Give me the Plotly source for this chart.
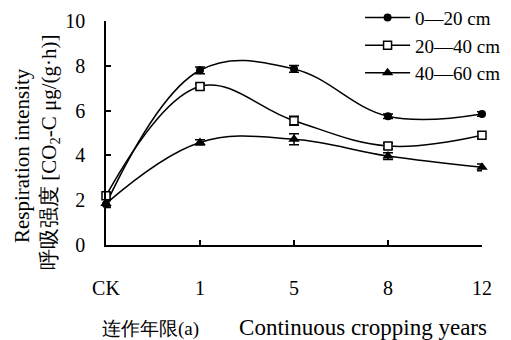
import plotly.graph_objects as go

categories = ["CK", "1", "5", "8", "12"]
s1_name = "0—20 cm"
s1 = [1.82, 7.8, 7.86, 5.75, 5.85]
s1_err = [0.15, 0.15, 0.15, 0.1, 0.1]
s2_name = "20—40 cm"
s2 = [2.2, 7.08, 5.55, 4.42, 4.9]
s2_err = [0.12, 0.12, 0.2, 0.12, 0.15]
s3_name = "40—60 cm"
s3 = [1.85, 4.58, 4.72, 3.97, 3.47]
s3_err = [0.15, 0.12, 0.25, 0.15, 0.15]
y_ticks = [0, 2, 4, 6, 8, 10]
y_title_1 = "Respiration intensity"
y_title_2 = "呼吸强度 [CO<sub>2</sub>-C μg/(g·h)]"
x_title_cn = "连作年限(a)"
x_title_en = "Continuous cropping years"

FONT = "Liberation Serif"
xpos = list(range(len(categories)))

fig = go.Figure()
specs = [
    (s1_name, s1, s1_err, dict(symbol="circle", size=8, color="black")),
    (s2_name, s2, s2_err, dict(symbol="square", size=8, color="white", line=dict(width=1.5, color="black"))),
    (s3_name, s3, s3_err, dict(symbol="triangle-up", size=10, color="black")),
]
for name, ys, err, mk in specs:
    fig.add_trace(go.Scatter(
        x=xpos, y=ys, name=name, mode="lines+markers",
        line=dict(color="black", width=1.5, shape="spline", smoothing=1.1),
        marker=mk,
        error_y=dict(type="data", array=err, color="black", thickness=1.5, width=5),
        cliponaxis=False,
    ))

x_title = ('<span style="font-size:19px">' + x_title_cn + '</span>'
           + "&nbsp;" * 8
           + '<span style="font-size:23px">' + x_title_en + '</span>')

# page body has an 8px margin, so the figure is sized 503x332
fig.update_layout(
    width=503, height=332,
    margin=dict(l=98, r=29, t=13, b=95, autoexpand=False),
    paper_bgcolor="white", plot_bgcolor="white",
    font=dict(family=FONT, size=18, color="black"),
    showlegend=True,
    legend=dict(x=1.064, y=1.10, xanchor="right", yanchor="top",
                bgcolor="rgba(0,0,0,0)", font=dict(size=19, family=FONT),
                itemwidth=45, tracegroupgap=0),
    xaxis=dict(
        range=[0, 4], tickmode="array", tickvals=xpos, ticktext=categories,
        showline=True, linecolor="black", linewidth=1.5,
        ticks="inside", ticklen=5, tickwidth=1.5, tickcolor="black",
        showgrid=False, zeroline=False, ticklabelstandoff=24,
        tickfont=dict(size=20), automargin=False,
    ),
    yaxis=dict(
        range=[0, 10], tickvals=y_ticks,
        showline=True, linecolor="black", linewidth=1.5,
        ticks="inside", ticklen=5, tickwidth=1.5, tickcolor="black",
        showgrid=False, zeroline=False, ticklabelstandoff=15,
        tickfont=dict(size=20), automargin=False,
    ),
    annotations=[
        dict(text=y_title_1, xref="paper", yref="paper", x=-0.2234, y=0.397,
             xanchor="center", yanchor="middle", textangle=-90, showarrow=False,
             font=dict(size=21)),
        dict(text=y_title_2, xref="paper", yref="paper", x=-0.149, y=0.415,
             xanchor="center", yanchor="middle", textangle=-90, showarrow=False,
             font=dict(size=21)),
        dict(text=x_title, xref="paper", yref="paper", x=0.5, y=-0.370,
             xanchor="center", yanchor="middle", showarrow=False,
             font=dict(size=20)),
    ],
)

fig.write_html("out.html")
